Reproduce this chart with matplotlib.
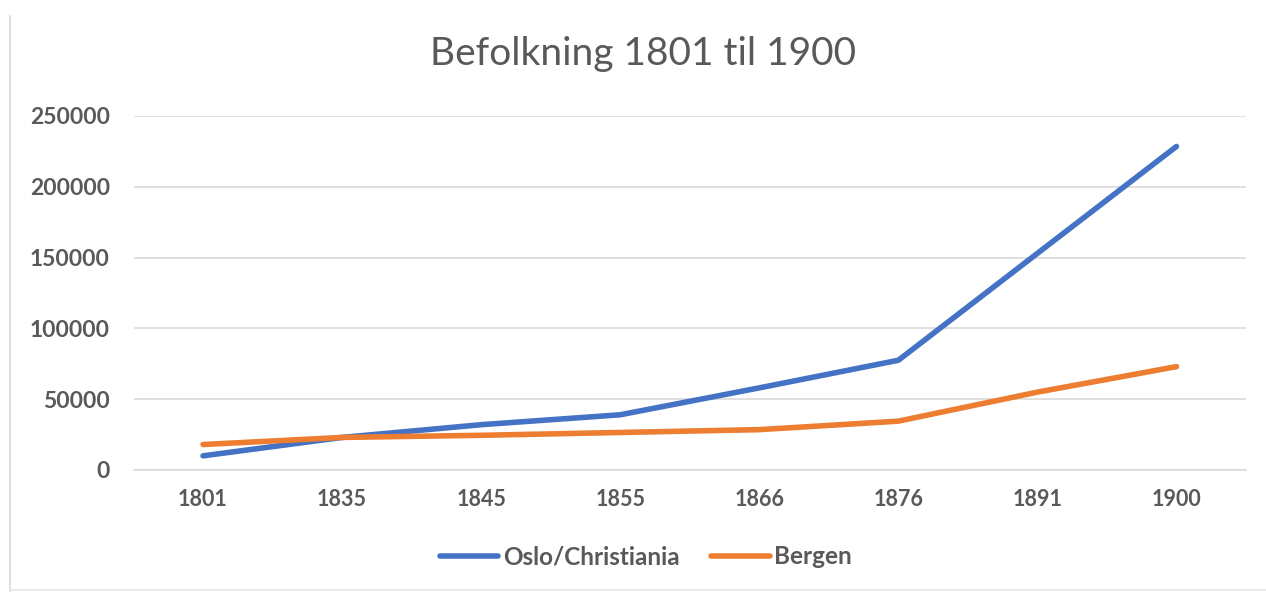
import matplotlib
matplotlib.use("Agg")
import matplotlib.pyplot as plt
from matplotlib.lines import Line2D

years = ["1801", "1835", "1845", "1855", "1866", "1876", "1891", "1900"]
oslo = [10000, 23000, 32000, 39000, 58000, 77500, 153000, 228500]
bergen = [18000, 23000, 24500, 26500, 28500, 34500, 55000, 73000]
yticks = [0, 50000, 100000, 150000, 200000, 250000]
title = "Befolkning 1801 til 1900"
series_names = ["Oslo/Christiania", "Bergen"]

plt.rcParams['font.family'] = ['Lato', 'DejaVu Sans']
W, H = 1266, 592
fig = plt.figure(figsize=(W/100, H/100), dpi=100)
ax = fig.add_axes([133.5/W, 1-470/H, (1246-133.5)/W, (470-116)/H])

x = list(range(len(years)))
ax.plot(x, oslo, color="#4472C4", lw=4, solid_capstyle="round", solid_joinstyle="round")
ax.plot(x, bergen, color="#ED7D31", lw=4, solid_capstyle="round", solid_joinstyle="round")

ax.set_xlim(-0.5, len(years)-0.5)
ax.set_ylim(0, 250000)
ax.set_yticks(yticks)
ax.set_yticklabels([str(v) for v in yticks])
ax.set_xticks(x)
ax.set_xticklabels(years)
ax.grid(axis="y", color="#D9D9D9", lw=1.2)
ax.set_axisbelow(True)
for s in ["top", "right", "left"]:
    ax.spines[s].set_visible(False)
ax.spines["bottom"].set_color("#D9D9D9")
ax.spines["bottom"].set_linewidth(1.2)
ax.tick_params(length=0)
ax.tick_params(axis="y", pad=17, labelsize=16.5, labelcolor="#595959")
ax.tick_params(axis="x", pad=14, labelsize=15.5, labelcolor="#595959")
for lab in ax.get_xticklabels() + ax.get_yticklabels():
    lab.set_fontweight("bold")

fig.text(643/W, 1-54/H, title, ha="center", va="center", fontsize=28, color="#595959")

handles = [Line2D([0], [0], color="#4472C4", lw=4, solid_capstyle="round"),
           Line2D([0], [0], color="#ED7D31", lw=4, solid_capstyle="round")]
leg = fig.legend(handles, series_names, loc="center", bbox_to_anchor=(646/W, 1-557/H),
                 ncol=2, frameon=False, handlelength=2.4, handletextpad=0.2, columnspacing=1.3,
                 prop={"weight": "bold", "size": 17.5})
for t in leg.get_texts():
    t.set_color("#595959")

# chart border lines
fig.add_artist(Line2D([10/W, 10/W], [0, 1-16/H], color="#D9D9D9", lw=1.2))
fig.add_artist(Line2D([10/W, 1], [1-590/H, 1-590/H], color="#E6E6E6", lw=1.2))

fig.savefig("out.png", dpi=100, facecolor="white")
